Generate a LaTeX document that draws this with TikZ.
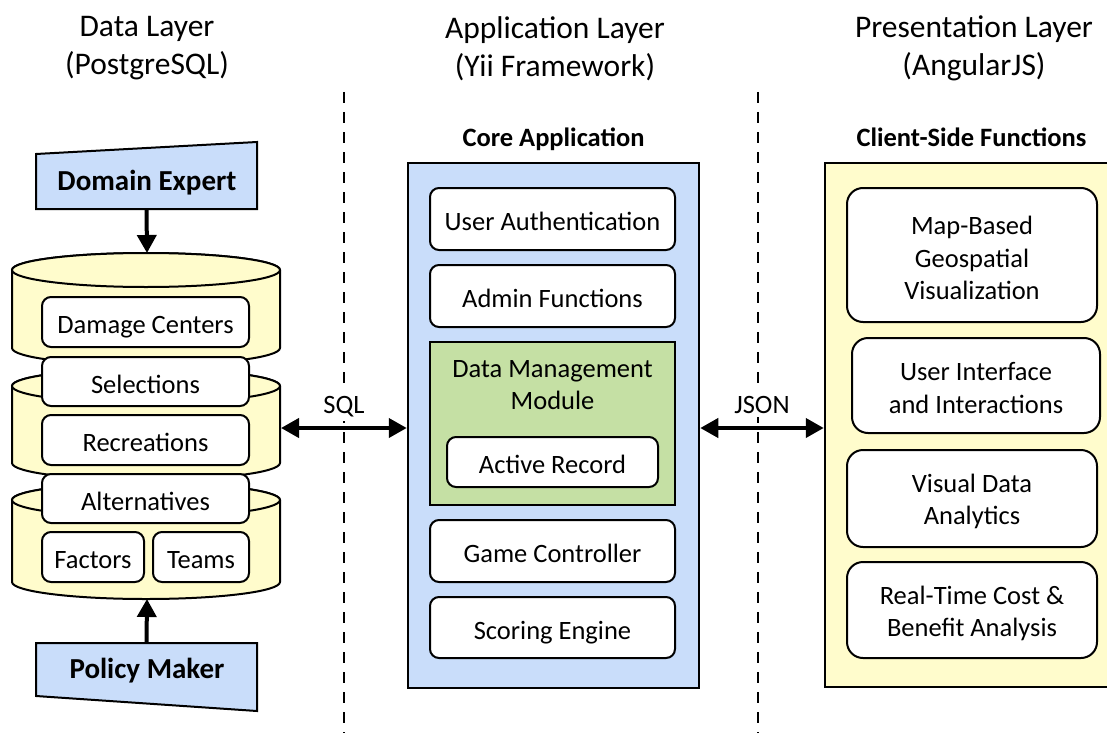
\documentclass[tikz,border=0pt]{standalone}
\usepackage{fontspec}
\setmainfont{Carlito}
\usetikzlibrary{arrows.meta,calc}
\definecolor{bluef}{RGB}{201,221,250}
\definecolor{greenf}{RGB}{197,224,164}
\definecolor{yellowf}{RGB}{255,252,204}
\tikzset{
  txt/.style={font=\fontsize{26.5}{32.5}\selectfont, align=center, inner sep=0pt},
  boxw/.style={draw, line width=2pt, fill=white, rounded corners=9pt, inner sep=0pt},
  bigbox/.style={draw, line width=2pt, fill=white, rounded corners=16pt, inner sep=0pt},
  panel/.style={draw, line width=2.5pt, inner sep=0pt},
  layertitle/.style={font=\fontsize{31.5}{38}\selectfont, align=center, inner sep=0pt},
  subtitle/.style={font=\bfseries\fontsize{26.5}{32}\selectfont, inner sep=0pt, anchor=base},
  actor/.style={font=\bfseries\fontsize{29}{34}\selectfont, inner sep=0pt, anchor=base},
  conn/.style={line width=4pt, -{Triangle[length=18pt,width=19pt]}},
  biconn/.style={line width=4pt, {Triangle[length=18pt,width=19pt]}-{Triangle[length=18pt,width=19pt]}},
  sep/.style={line width=2pt, dash pattern=on 11pt off 9pt},
  cyl/.style={draw, line width=2pt, fill=yellowf},
  conlabel/.style={txt, fill=white, inner sep=4pt, anchor=base}
}
% single-line box: style, width, height, name, position, text
\newcommand{\oneline}[6]{%
  \node[#1, minimum width=#2, minimum height=#3] (#4) at #5 {};
  \node[txt, anchor=base] (#4t) at ($(#4.center)+(0,-11.5)$) {#6};}
% multi-line box: style, width, height, name, position, text, text shift
\newcommand{\multiline}[7]{%
  \node[#1, minimum width=#2, minimum height=#3] (#4) at #5 {};
  \node[txt] (#4t) at ($(#4.center)+(0,#7)$) {#6};}
\begin{document}
\begin{tikzpicture}[x=1pt,y=1pt]
\clip (0,0) rectangle (1107,-733);
\fill[white] (0,0) rectangle (1107,-733);

% layer titles
\node[layertitle] (tdata) at (147,-48.5) {Data Layer\\(PostgreSQL)};
\node[layertitle] (tapp) at (555,-48.5) {Application Layer\\(Yii Framework)};
\node[layertitle] (tpres) at (974,-48.5) {Presentation Layer\\(AngularJS)};

% separators
\coordinate (s1t) at (344,-92); \coordinate (s1b) at (344,-733);
\coordinate (s2t) at (758,-92); \coordinate (s2b) at (758,-733);
\draw[sep] (s1t) -- (s1b);
\draw[sep] (s2t) -- (s2b);

% cylinders
\foreach \yt/\yb in {270/348, 386/463, 500/582}{
  \path[cyl] (12,-\yt) -- (12,-\yb) arc[start angle=180, end angle=360, x radius=134, y radius=17]
     -- (280,-\yt) arc[start angle=0, end angle=180, x radius=134, y radius=17] -- cycle;
  \draw[line width=2pt, fill=yellowf] (146,-\yt) ellipse[x radius=134, y radius=17];
}
\coordinate (cyltop) at (147,-253);
\coordinate (cylbot) at (147,-599);
\coordinate (cylR) at (281,-428);

% boxes in database
\oneline{boxw}{207pt}{50pt}{dc}{(145.5,-322)}{Damage Centers}
\oneline{boxw}{207pt}{49pt}{sel}{(145.5,-381.5)}{Selections}
\oneline{boxw}{207pt}{50pt}{rec}{(145.5,-440)}{Recreations}
\oneline{boxw}{207pt}{49pt}{alt}{(145.5,-498.5)}{Alternatives}
\oneline{boxw}{102pt}{50pt}{fac}{(93,-557)}{Factors}
\oneline{boxw}{96pt}{50pt}{team}{(201,-557)}{Teams}

% actors
\draw[line width=2pt, fill=bluef] (36,-154) -- (257,-142) -- (257,-209) -- (36,-209) -- cycle;
\node[inner sep=0pt, minimum width=221pt, minimum height=55pt] (de) at (146.5,-181.5) {};
\node[actor] (det) at (147,-190.5) {Domain Expert};
\draw[line width=2pt, fill=bluef] (36,-643) -- (257,-643) -- (257,-711) -- (36,-696) -- cycle;
\node[inner sep=0pt, minimum width=221pt, minimum height=54pt] (pm) at (146.5,-670) {};
\node[actor] (pmt) at (147,-678.5) {Policy Maker};
\draw[conn] (de.south) -- (cyltop);
\draw[conn] (pm.north) -- (cylbot);

% core application
\node[subtitle] (coret) at (553.5,-146.5) {Core Application};
\node[panel, fill=bluef, minimum width=291pt, minimum height=525pt] (core) at (553.5,-425.5) {};
\oneline{boxw}{245pt}{62pt}{ua}{(552.5,-219)}{User Authentication}
\oneline{boxw}{245pt}{62pt}{af}{(552.5,-296)}{Admin Functions}
\node[draw, line width=2.5pt, fill=greenf, minimum width=245pt, minimum height=163pt, inner sep=0pt] (dm) at (552.5,-423.5) {};
\node[txt] (dmt) at (552.5,-385) {Data Management\\Module};
\oneline{boxw}{211pt}{50pt}{ar}{(552.5,-462)}{Active Record}
\oneline{boxw}{245pt}{62pt}{gc}{(552.5,-551)}{Game Controller}
\oneline{boxw}{245pt}{61pt}{se}{(552.5,-627.5)}{Scoring Engine}

% client side
\node[subtitle] (clientt) at (971.5,-146.5) {Client-Side Functions};
\node[panel, fill=yellowf, minimum width=300pt, minimum height=524pt] (client) at (975,-425) {};
\multiline{bigbox}{250pt}{134pt}{map}{(972,-255)}{Map-Based\\Geospatial\\Visualization}{-3}
\multiline{bigbox}{248pt}{95pt}{ui}{(976,-385.5)}{User Interface\\and Interactions}{-2.5}
\multiline{bigbox}{250pt}{97pt}{vda}{(972,-498.5)}{Visual Data\\Analytics}{-3}
\multiline{bigbox}{250pt}{96pt}{rt}{(972,-610)}{Real-Time Cost \&\\Benefit Analysis}{-3.5}

% connectors
\draw[biconn] (cylR) -- (cylR -| core.west);
\node[conlabel] (sql) at (344,-413) {SQL};
\coordinate (jl) at (core.east |- cylR);
\draw[biconn] (jl) -- (jl -| client.west);
\node[conlabel] (json) at (762,-413) {JSON};
\end{tikzpicture}
\end{document}
